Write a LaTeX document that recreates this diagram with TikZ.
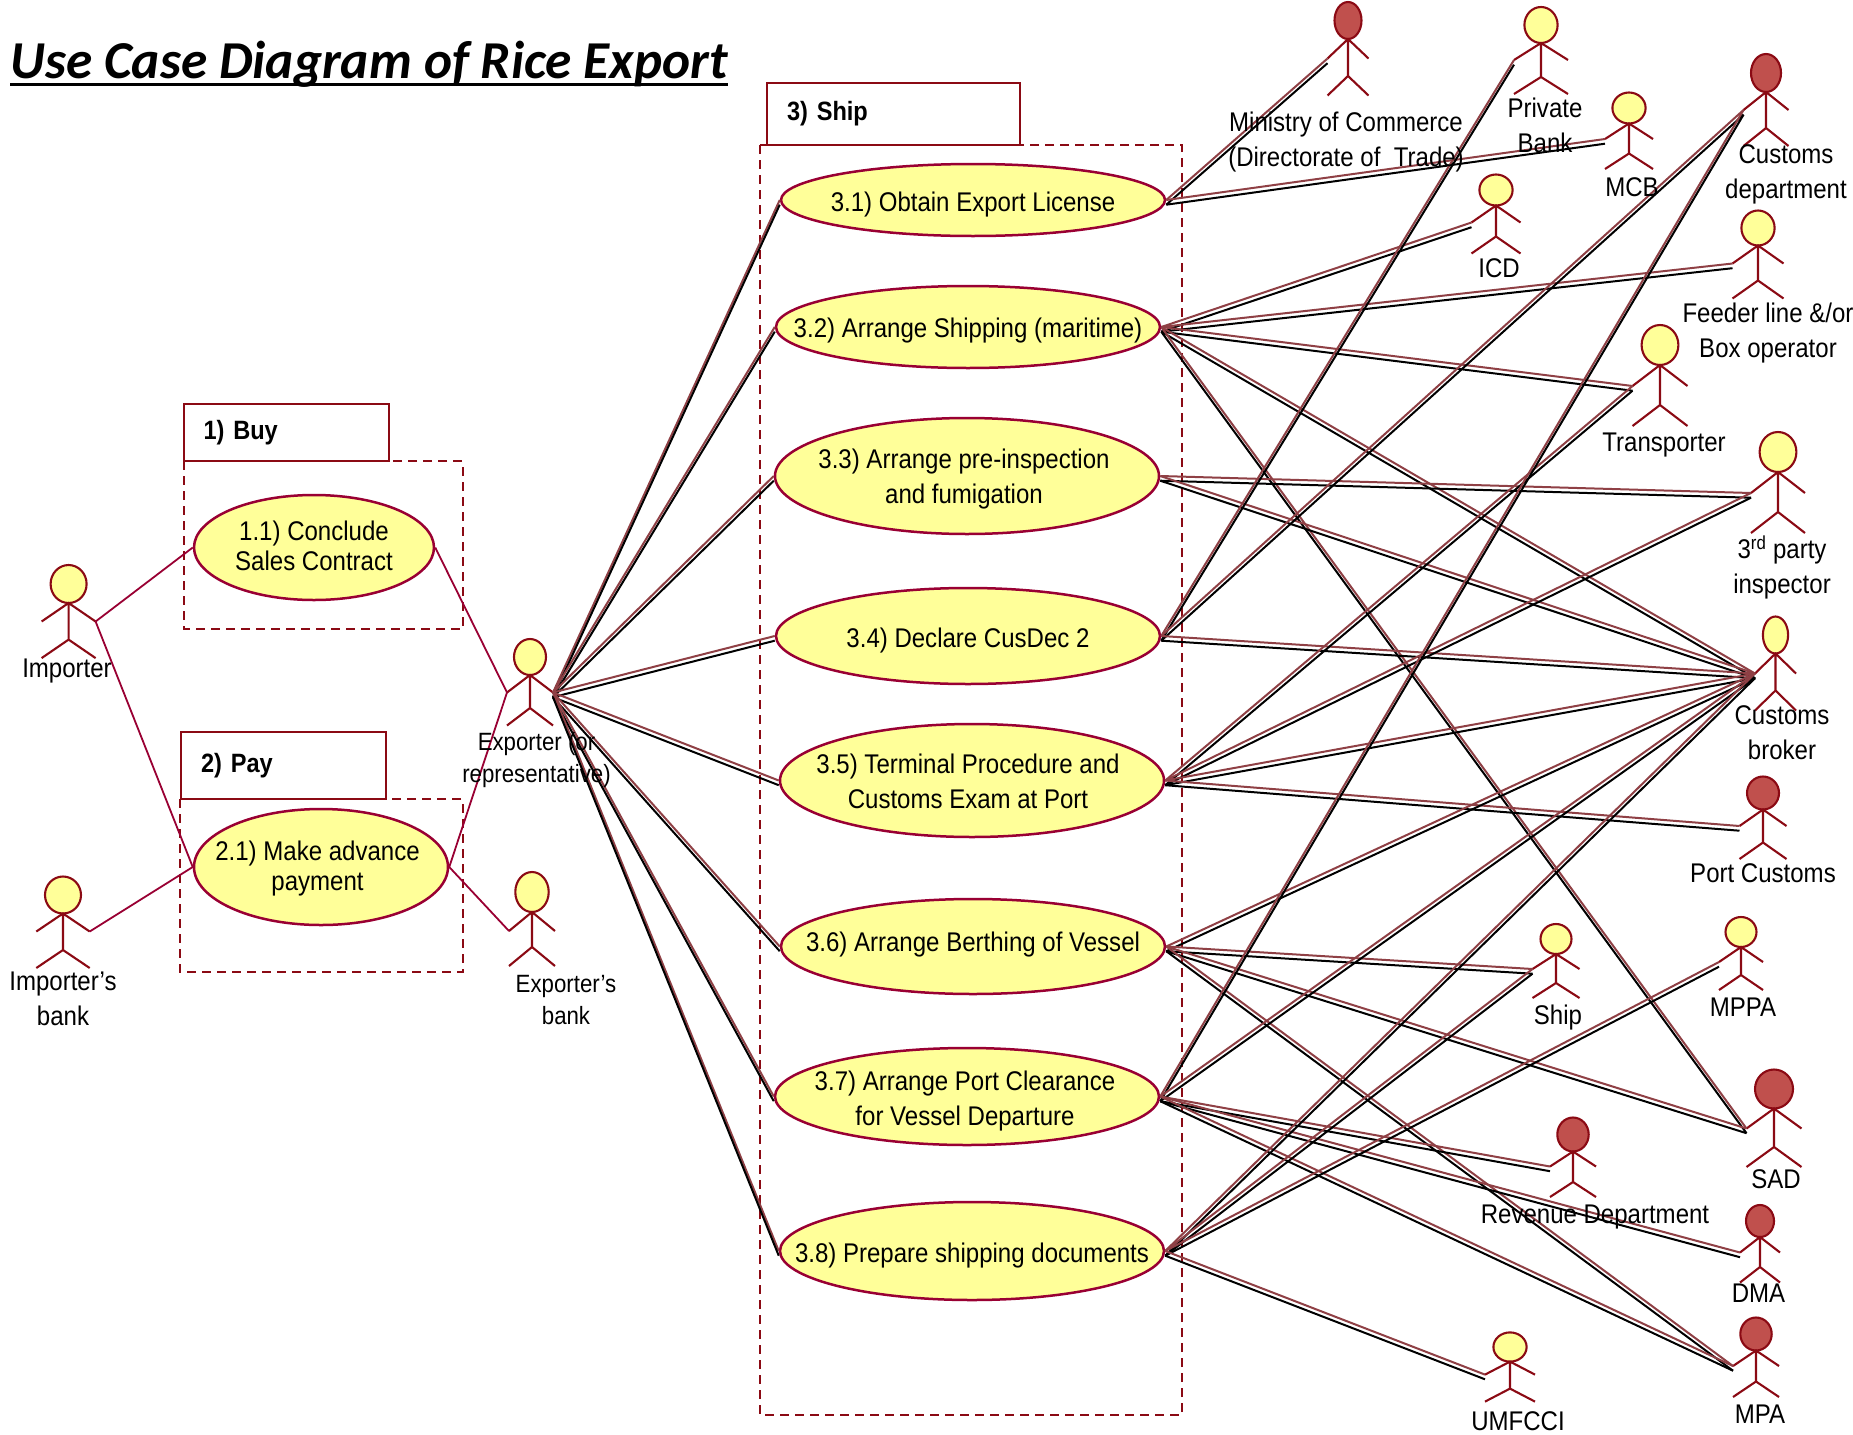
\documentclass[tikz,border=0pt]{standalone}
\usepackage{fontspec}
\setmainfont[FakeStretch=0.89]{Liberation Sans}
\newfontfamily\titlefont{Carlito}
\usetikzlibrary{shapes.geometric}
\definecolor{actline}{HTML}{8B0A14}
\definecolor{ucline}{HTML}{990033}
\definecolor{ucfill}{HTML}{FFFF99}
\definecolor{gov}{HTML}{C0504D}
\definecolor{assocred}{HTML}{8F4045}
% actor: name, head style, x, y, rx, ry, half span, drop, body
\newcommand{\actor}[9]{
	\node[head,#2,minimum width=#5*2pt,minimum height=#6*2pt] (#1) at (#3,#4) {};
	\coordinate (#1s) at (#3,#4+#6);
	\coordinate (#1h) at (#3,#4+#6+#9);
	\coordinate (#1l) at (#3-#7,#4+#6+#8);
	\coordinate (#1r) at (#3+#7,#4+#6+#8);
	\coordinate (#1fl) at (#3-#7,#4+#6+#9+#8);
	\coordinate (#1fr) at (#3+#7,#4+#6+#9+#8);
	\draw[limb] (#1l)--(#1s)--(#1r) (#1s)--(#1h) (#1fl)--(#1h)--(#1fr);
}
% double line
\newcommand{\assoc}[2]{
	\draw[assocline,assocred] (#1)--(#2);
	\draw[assocline,black] ([yshift=-4.7pt]#1)--([yshift=-4.7pt]#2);
}
\begin{document}
\begin{tikzpicture}[x=1pt,y=-1pt,
		head/.style={draw=actline,ellipse,fill=ucfill,line width=2.1pt,inner sep=0pt},
		redhead/.style={fill=gov},
		limb/.style={draw=actline,line width=2.1pt},
		uc/.style={draw=ucline,ellipse,fill=ucfill,line width=2.5pt,inner sep=0pt,minimum width=384pt},
		uctxt/.style={align=center,font=\fontsize{27}{35}\selectfont},
		uctight/.style={align=center,font=\fontsize{27}{30}\selectfont},
		actlabel/.style={align=center,font=\fontsize{27}{35}\selectfont,inner sep=0pt},
		rect/.style={draw=actline,line width=2pt,rectangle,anchor=north west,align=left,
				text width=165pt,inner xsep=20pt,inner ysep=0pt,font=\fontsize{26.5}{34}\selectfont\bfseries},
		frame/.style={draw=actline,line width=2pt,dash pattern=on 9pt off 6pt},
		thin/.style={draw=ucline,line width=1.8pt},
		assocline/.style={line width=2pt}]
	\useasboundingbox (0,0) rectangle (1853,1435);
	\node[inner sep=0pt,anchor=west,font=\titlefont\fontsize{53.3}{60}\selectfont\bfseries\itshape] (title) at (10,64.5) {Use Case Diagram of Rice Export};
	\draw[line width=3pt] (title.west|-0,84)--(title.east|-0,84);

	% groups
	\node[rect,minimum height=57pt] (buy) at (182.5,403) {\raisebox{4.5pt}{1) Buy}};
	\node[rect,minimum height=67pt] (pay) at (180,731) {\raisebox{3pt}{2) Pay}};
	\node[rect,minimum height=62pt,text width=213pt] (ship) at (766,81.5) {\raisebox{4.5pt}{3) Ship}};
	\draw[frame] (184,461) rectangle (462.5,629);
	\draw[frame] (180,799) rectangle (462.5,972);
	\draw[frame] (760,145) rectangle (1182,1415);

	% use cases
	\node[uc,minimum width=240pt,minimum height=105pt,label={[uctight,yshift=2pt]center:{1.1) Conclude\\Sales Contract}}] (uc11) at (314,547.5) {};
	\node[uc,minimum width=254pt,minimum height=116pt,label={[uctight,yshift=-2pt,xshift=-3.5pt]center:{2.1) Make advance\\payment}}] (uc21) at (321,867) {};
	\node[uc,minimum height=72pt,label={[uctxt,yshift=-4.5pt]center:{3.1) Obtain Export License}}] (uc31) at (973,200) {};
	\node[uc,minimum height=82pt,label={[uctxt,yshift=-3.5pt]center:{3.2) Arrange Shipping (maritime)}}] (uc32) at (968,327) {};
	\node[uc,minimum height=116pt,label={[uctxt,yshift=-3.5pt,xshift=-3pt]center:{3.3) Arrange pre-inspection\\and fumigation}}] (uc33) at (967,476) {};
	\node[uc,minimum height=96pt,label={[uctxt,yshift=-4.5pt]center:{3.4) Declare CusDec 2}}] (uc34) at (968,636) {};
	\node[uc,minimum height=113pt,label={[uctxt,yshift=-1pt,xshift=-4pt]center:{3.5) Terminal Procedure and\\Customs Exam at Port}}] (uc35) at (972,780.5) {};
	\node[uc,minimum height=95pt,label={[uctxt,yshift=2pt]center:{3.6) Arrange Berthing of Vessel}}] (uc36) at (973,946.5) {};
	\node[uc,minimum height=97pt,label={[uctxt,yshift=-5pt,xshift=-2pt]center:{3.7) Arrange Port Clearance\\for Vessel Departure}}] (uc37) at (967,1096.5) {};
	\node[uc,minimum height=98pt,label={[uctxt,yshift=-4.5pt]center:{3.8) Prepare shipping documents}}] (uc38) at (972,1251) {};

	% actors
	\actor{importer}{}{68.6}{584}{18}{19}{27}{18.5}{36.6}
	\actor{impbank}{}{63}{895}{18}{18.5}{26.7}{18}{36.5}
	\actor{exporter}{}{530}{657}{16}{18}{23}{17.5}{33}
	\actor{expbank}{}{532}{892}{16.7}{20}{23}{19}{35}
	\actor{ministry}{redhead}{1348}{20.5}{13.5}{18.5}{20.5}{19.5}{37}
	\actor{privbank}{}{1541}{25}{16.6}{18}{27}{17}{34}
	\actor{mcb}{}{1629}{108}{16.6}{15.5}{24}{15.5}{30}
	\actor{customs}{redhead}{1766}{73}{15}{19}{22.5}{18}{36}
	\actor{icd}{}{1496}{190}{16.6}{15.5}{24.5}{17}{31}
	\actor{feeder}{}{1758}{228}{16.6}{17.5}{25.5}{18}{35}
	\actor{transporter}{}{1660}{345}{18.4}{20}{27.5}{21}{40}
	\actor{inspector}{}{1778}{452}{18.4}{20}{27}{21}{40}
	\actor{broker}{}{1775.5}{635}{12.6}{18.5}{20.5}{20}{37}
	\actor{portcustoms}{redhead}{1763}{793}{16}{16.5}{23.5}{16.5}{33}
	\actor{vessel}{}{1556}{939}{15.5}{15}{23.5}{15}{29}
	\actor{mppa}{}{1741}{932}{15.5}{15}{22}{15}{28}
	\actor{sad}{redhead}{1774}{1089}{19}{19.5}{27.5}{20}{38.5}
	\actor{revenue}{redhead}{1573}{1134.5}{15.7}{17}{23}{15}{30.5}
	\actor{dma}{redhead}{1760}{1221}{14}{16}{20}{15.5}{30}
	\actor{mpa}{redhead}{1756}{1334}{15.7}{16.5}{23}{15.5}{31}
	\actor{umfcci}{}{1510}{1347}{16.6}{14.6}{25}{13}{27}

	% single lines
	\draw[thin] (importerr)--(uc11.west);
	\draw[thin] (importerr)--(uc21.west);
	\draw[thin] (impbankr)--(uc21.west);
	\draw[thin] (uc11.east)--(exporterl);
	\draw[thin] (uc21.east)--(exporterl);
	\draw[thin] (uc21.east)--(expbankl);

	% double lines
	\foreach \u in {uc31,uc32,uc33,uc34,uc35,uc36,uc37,uc38}{
		\assoc{exporterr}{\u.west}
	}
	\foreach \u/\a in {uc31/ministry,uc31/mcb,uc32/icd,uc32/feeder,uc32/transporter,uc32/broker,uc32/sad,
			uc33/inspector,uc33/broker,uc34/privbank,uc34/customs,uc34/broker,
			uc35/transporter,uc35/inspector,uc35/broker,uc35/portcustoms,
			uc36/broker,uc36/vessel,uc36/sad,uc36/mpa,
			uc37/customs,uc37/broker,uc37/revenue,uc37/dma,uc37/mpa,
			uc38/broker,uc38/vessel,uc38/mppa,uc38/umfcci}{
		\assoc{\u.east}{\a l}
	}

	% labels
	\node[actlabel] (lministry) at (1346,142) {Ministry of Commerce\\(Directorate of~~Trade)};
	\node[actlabel] (lprivbank) at (1545,125.5) {Private\\Bank};
	\node[actlabel] (lmcb) at (1632,187) {MCB};
	\node[actlabel] (lcustoms) at (1786,174.5) {Customs\\department};
	\node[actlabel] (licd) at (1499,268) {ICD};
	\node[actlabel] (lfeeder) at (1768,333) {Feeder line \&/or\\Box operator};
	\node[actlabel] (ltransporter) at (1664,445.5) {Transporter};
	\node[actlabel] (linspector) at (1782,567.5) {3\textsuperscript{rd} party\\inspector};
	\node[actlabel] (lbroker) at (1782,733) {Customs\\broker};
	\node[actlabel] (lportcustoms) at (1763,873) {Port Customs};
	\node[actlabel] (lvessel) at (1558,1017.5) {Ship};
	\node[actlabel] (lmppa) at (1743,1007) {MPPA};
	\node[actlabel] (lsad) at (1776,1179.5) {SAD};
	\node[actlabel] (lrevenue) at (1595,1216.5) {Revenue Department};
	\node[actlabel] (ldma) at (1758.5,1293) {DMA};
	\node[actlabel] (lmpa) at (1760,1414.5) {MPA};
	\node[actlabel] (lumfcci) at (1518,1421) {UMFCCI};
	\node[actlabel] (limporter) at (67,671.5) {Importer};
	\node[actlabel] (limpbank) at (63,999) {Importer's\\bank};
	\node[actlabel,font=\fontsize{25}{32}\selectfont] (lexporter) at (536.5,760) {Exporter (or\\representative)};
	\node[actlabel,font=\fontsize{25}{32}\selectfont] (lexpbank) at (566,1000) {Exporter's\\bank};
\end{tikzpicture}
\end{document}
